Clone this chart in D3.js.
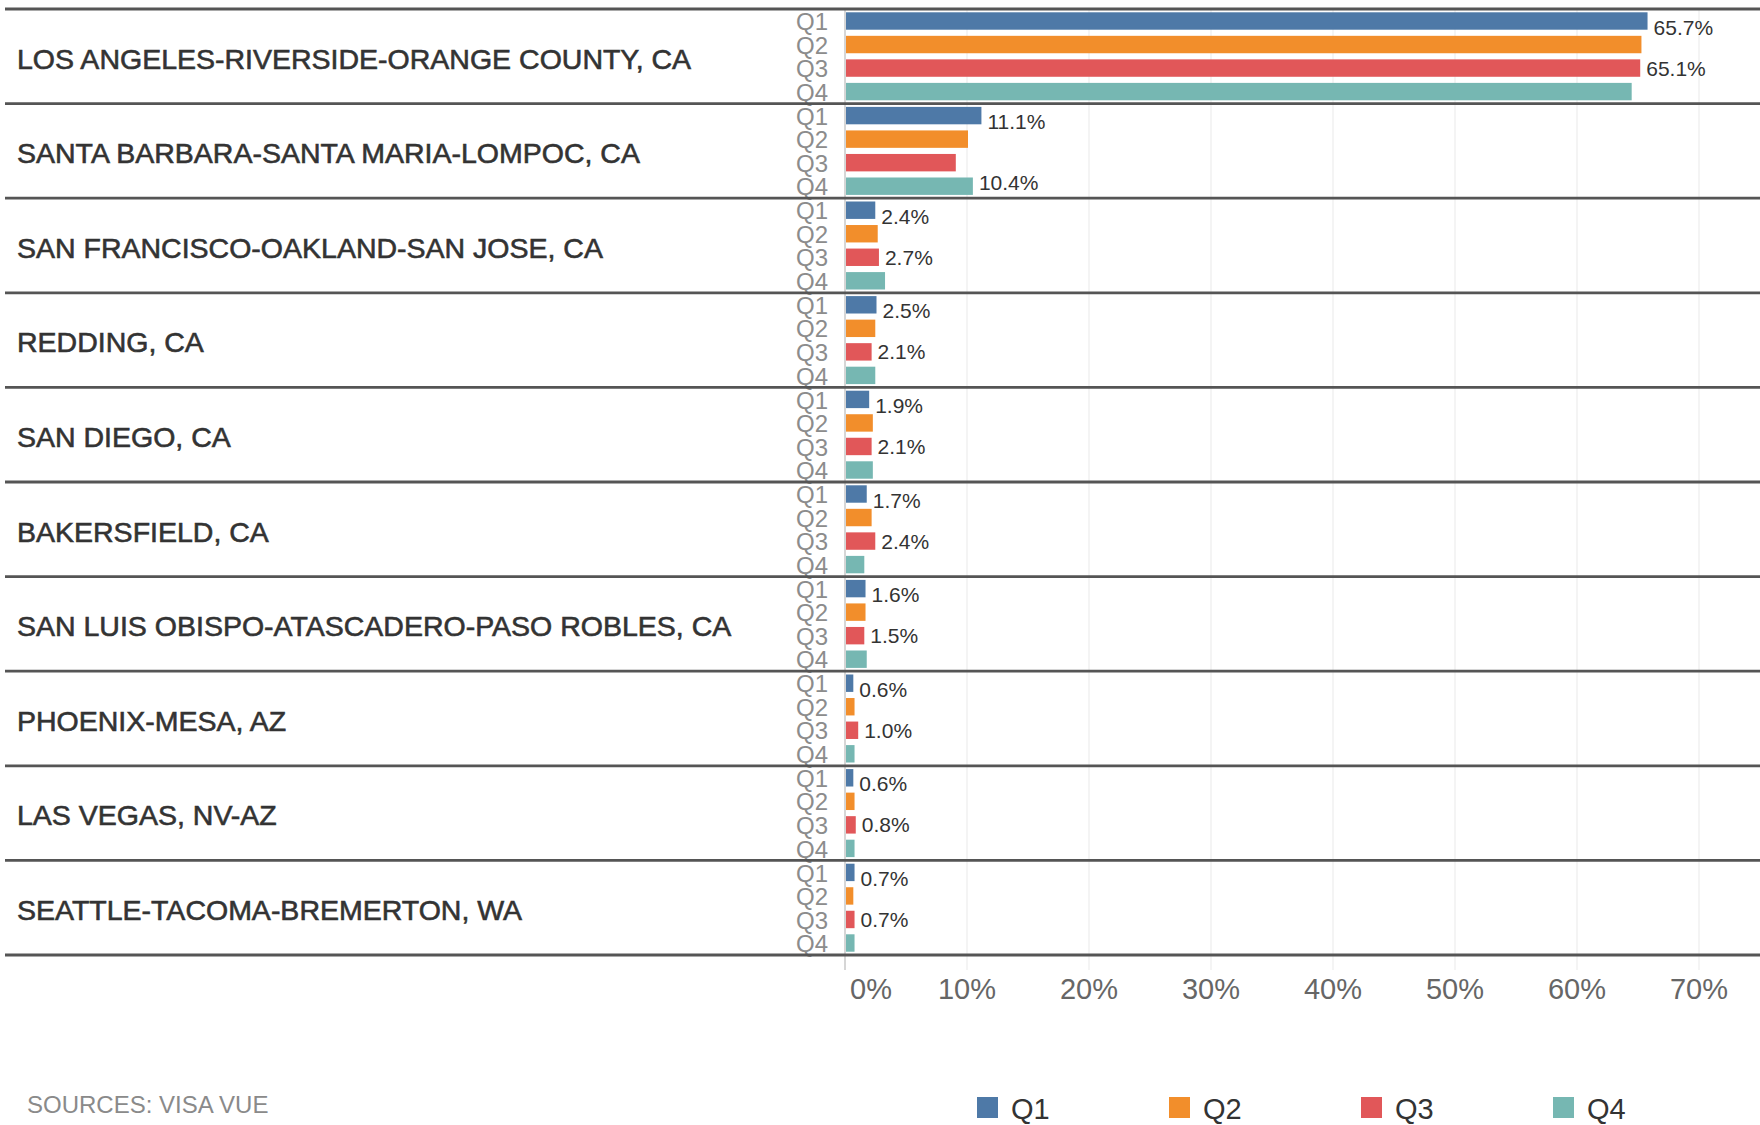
<!DOCTYPE html>
<html>
<head>
<meta charset="utf-8">
<script src="https://cdn.jsdelivr.net/npm/d3@7"></script>
<style>
  body { margin: 0; background: #fff; }
  svg { display: block; font-family: "Liberation Sans", Arial, sans-serif; }
</style>
</head>
<body>
<svg id="chart" width="1760" height="1125"></svg>
<script>
// metro areas, top to bottom
var cities = [
    "LOS ANGELES-RIVERSIDE-ORANGE COUNTY, CA",
    "SANTA BARBARA-SANTA MARIA-LOMPOC, CA",
    "SAN FRANCISCO-OAKLAND-SAN JOSE, CA",
    "REDDING, CA",
    "SAN DIEGO, CA",
    "BAKERSFIELD, CA",
    "SAN LUIS OBISPO-ATASCADERO-PASO ROBLES, CA",
    "PHOENIX-MESA, AZ",
    "LAS VEGAS, NV-AZ",
    "SEATTLE-TACOMA-BREMERTON, WA"
];

var quarters = ["Q1", "Q2", "Q3", "Q4"];

// share of visitors (%) per quarter
var q1 = [65.7, 11.1, 2.4, 2.5, 1.9, 1.7, 1.6, 0.6, 0.6, 0.7];
var q2 = [65.2, 10.0, 2.6, 2.4, 2.2, 2.1, 1.6, 0.7, 0.7, 0.6];
var q3 = [65.1, 9.0, 2.7, 2.1, 2.1, 2.4, 1.5, 1.0, 0.8, 0.7];
var q4 = [64.4, 10.4, 3.2, 2.4, 2.2, 1.5, 1.7, 0.7, 0.7, 0.7];

// which bars carry a value label in each row
var labelled = [
    ["Q1", "Q3"], ["Q1", "Q4"], ["Q1", "Q3"], ["Q1", "Q3"], ["Q1", "Q3"],
    ["Q1", "Q3"], ["Q1", "Q3"], ["Q1", "Q3"], ["Q1", "Q3"], ["Q1", "Q3"]
];

var ticks = [0, 10, 20, 30, 40, 50, 60, 70];

var series = { Q1: q1, Q2: q2, Q3: q3, Q4: q4 };

var color = d3.scaleOrdinal()
    .domain(quarters)
    .range(["#4e79a7", "#f28e2b", "#e15759", "#76b7b2"]);

var svg = d3.select("#chart");

var x = d3.scaleLinear()
    .domain([0, 75])
    .range([845, 1760]);

var row = d3.scaleBand()
    .domain(cities)
    .range([9, 955]);

var band = d3.scaleBand()
    .domain(quarters)
    .range([0, row.bandwidth()])
    .paddingInner(0.26)
    .paddingOuter(0.14);

// gridlines
svg.append("g")
    .selectAll("line")
    .data(ticks)
    .enter().append("line")
    .attr("x1", function (d) { return x(d); })
    .attr("x2", function (d) { return x(d); })
    .attr("y1", 9)
    .attr("y2", 970)
    .attr("stroke", function (d) { return d === 0 ? "#c8c8c8" : "#ededed"; })
    .attr("stroke-width", function (d) { return d === 0 ? 1.5 : 1.2; });

// rows
var rows = svg.selectAll(".row")
    .data(cities)
    .enter().append("g")
    .attr("class", "row")
    .attr("transform", function (d) { return "translate(0," + row(d) + ")"; });

rows.append("text")
    .attr("x", 17)
    .attr("y", row.bandwidth() / 2 + 2)
    .attr("dy", "0.36em")
    .attr("font-size", 28.5)
    .attr("fill", "#333")
    .attr("stroke", "#333")
    .attr("stroke-width", 0.6)
    .text(function (d) { return d; });

rows.selectAll(".ql")
    .data(quarters)
    .enter().append("text")
    .attr("class", "ql")
    .attr("x", 828)
    .attr("y", function (q) { return band(q) + band.bandwidth() / 2; })
    .attr("dy", "0.38em")
    .attr("text-anchor", "end")
    .attr("font-size", 24)
    .attr("fill", "#8c8c8c")
    .text(function (q) { return q; });

rows.selectAll(".bar")
    .data(function (c, i) {
        return quarters.map(function (q) { return { q: q, v: series[q][i], i: i }; });
    })
    .enter().append("rect")
    .attr("class", "bar")
    .attr("x", x(0) + 1)
    .attr("y", function (d) { return band(d.q); })
    .attr("width", function (d) { return x(d.v) - x(0); })
    .attr("height", band.bandwidth())
    .attr("fill", function (d) { return color(d.q); });

rows.selectAll(".val")
    .data(function (c, i) {
        return labelled[i].map(function (q) { return { q: q, v: series[q][i] }; });
    })
    .enter().append("text")
    .attr("class", "val")
    .attr("x", function (d) { return x(d.v) + 7; })
    .attr("y", function (d) {
        var shift = d.q === "Q1" ? 6 : (d.q === "Q4" ? -3.5 : 0);
        return band(d.q) + band.bandwidth() / 2 + shift;
    })
    .attr("dy", "0.36em")
    .attr("font-size", 21)
    .attr("fill", "#333")
    .text(function (d) { return d.v.toFixed(1) + "%"; });

// row separators
svg.append("g")
    .selectAll("line")
    .data(cities.concat(["end"]))
    .enter().append("line")
    .attr("x1", 5)
    .attr("x2", 1760)
    .attr("y1", function (d) { return d === "end" ? 955 : row(d); })
    .attr("y2", function (d) { return d === "end" ? 955 : row(d); })
    .attr("stroke", "#555")
    .attr("stroke-width", 2.8);

// x axis labels
svg.append("g")
    .selectAll("text")
    .data(ticks)
    .enter().append("text")
    .attr("x", function (d) { return d === 0 ? x(d) + 5 : x(d); })
    .attr("y", 999)
    .attr("text-anchor", function (d) { return d === 0 ? "start" : "middle"; })
    .attr("font-size", 29)
    .attr("fill", "#666")
    .text(function (d) { return d + "%"; });

// legend
var legend = svg.append("g")
    .selectAll("g")
    .data(quarters)
    .enter().append("g")
    .attr("transform", function (d, i) { return "translate(" + (977 + i * 192) + ",1097)"; });

legend.append("rect")
    .attr("width", 21)
    .attr("height", 21)
    .attr("fill", function (d) { return color(d); });

legend.append("text")
    .attr("x", 34)
    .attr("y", 22)
    .attr("font-size", 29)
    .attr("fill", "#333")
    .text(function (d) { return d; });

svg.append("text")
    .attr("x", 27)
    .attr("y", 1113)
    .attr("font-size", 24)
    .attr("fill", "#8a8a8a")
    .text("SOURCES: VISA VUE");
</script>
</body>
</html>
